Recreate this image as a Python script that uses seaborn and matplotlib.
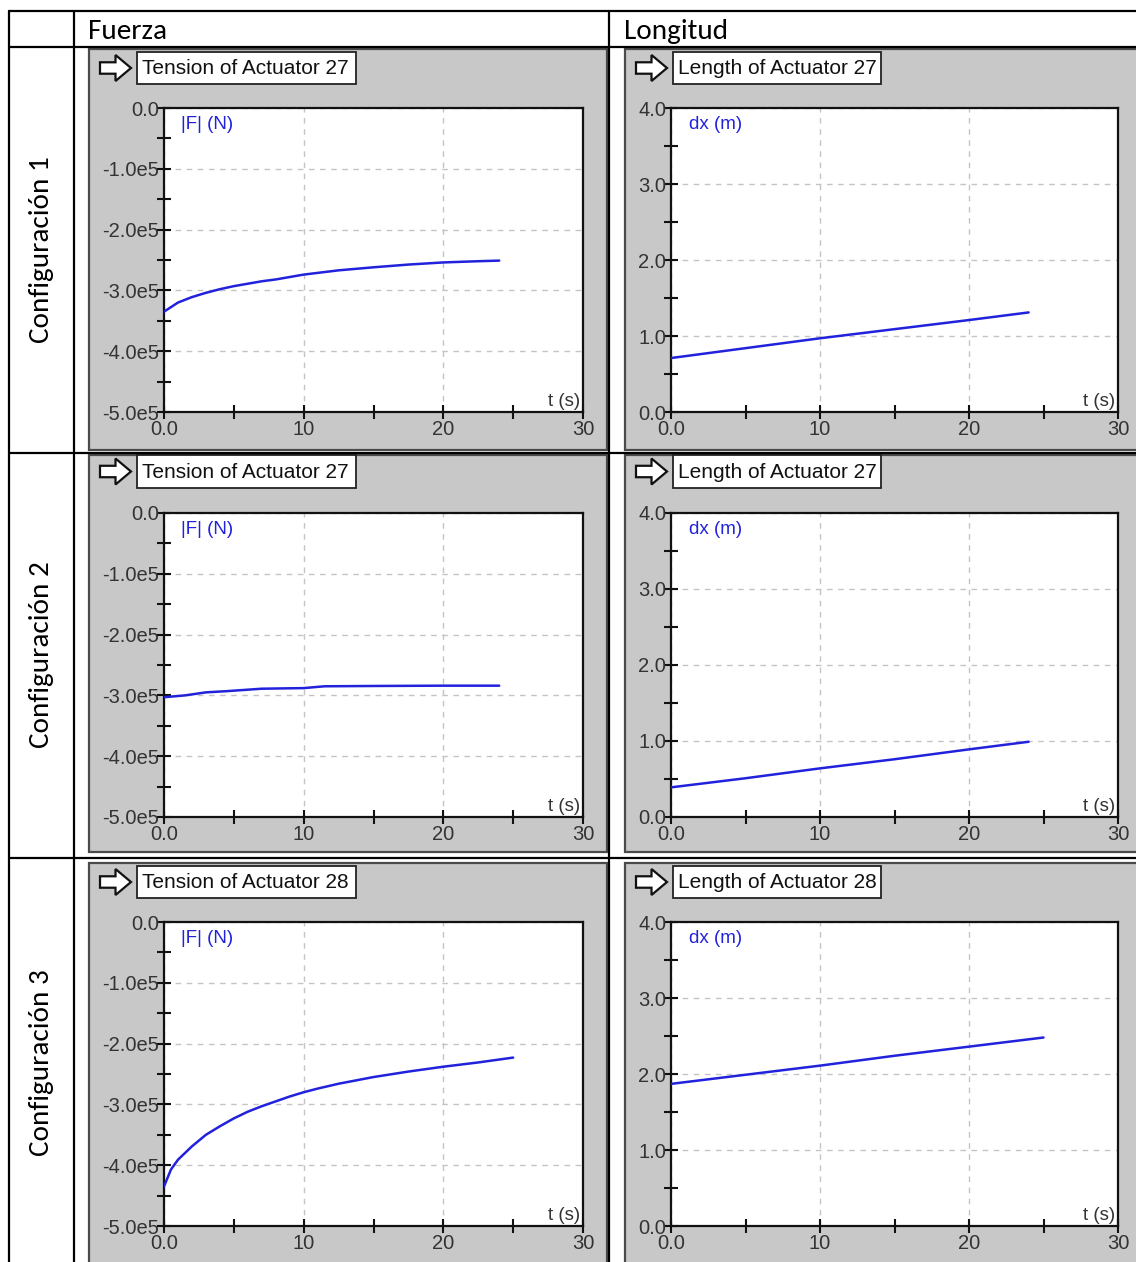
import matplotlib
matplotlib.use("Agg")
import matplotlib.pyplot as plt
import seaborn as sns
from matplotlib import font_manager
from matplotlib.patches import Rectangle, Polygon
from matplotlib.lines import Line2D

# Canvas size in pixels (dpi 100)
W, H = 1136, 1262

HEADERS = ['Fuerza', 'Longitud']
ROW_LABELS = ['Configuración 1', 'Configuración 2', 'Configuración 3']
TENSION_TITLES = ['Tension of Actuator 27', 'Tension of Actuator 27', 'Tension of Actuator 28']
LENGTH_TITLES = ['Length of Actuator 27', 'Length of Actuator 27', 'Length of Actuator 28']

# tension |F| (N) vs t (s)
T_TENSION_1 = [0, 1, 2, 3, 4, 5, 6, 7, 8, 10, 12.5, 15, 17.5, 20, 22.5, 24]
TENSION_1 = [-3.35e5, -3.20e5, -3.11e5, -3.04e5, -2.98e5, -2.93e5, -2.89e5,
             -2.85e5, -2.82e5, -2.74e5, -2.67e5, -2.62e5, -2.575e5, -2.54e5,
             -2.52e5, -2.51e5]
T_TENSION_2 = [0, 1.5, 3, 4.5, 7, 10, 11.5, 15, 20, 24]
TENSION_2 = [-3.03e5, -3.0e5, -2.95e5, -2.93e5, -2.89e5, -2.88e5, -2.85e5,
             -2.845e5, -2.84e5, -2.84e5]
T_TENSION_3 = [0, 0.5, 1, 2, 3, 4, 5, 6, 7, 8, 9, 10, 11, 12.5, 15, 17.5, 20, 22.5, 25]
TENSION_3 = [-4.35e5, -4.07e5, -3.91e5, -3.69e5, -3.50e5, -3.36e5, -3.23e5,
             -3.12e5, -3.03e5, -2.95e5, -2.87e5, -2.80e5, -2.74e5, -2.66e5,
             -2.55e5, -2.46e5, -2.38e5, -2.31e5, -2.23e5]

# length dx (m) vs t (s)
T_LENGTH_1 = [0, 5, 10, 15, 20, 24]
LENGTH_1 = [0.71, 0.84, 0.97, 1.09, 1.21, 1.31]
T_LENGTH_2 = [0, 5, 10, 15, 20, 24]
LENGTH_2 = [0.39, 0.51, 0.64, 0.76, 0.89, 0.99]
T_LENGTH_3 = [0, 5, 10, 15, 20, 25]
LENGTH_3 = [1.87, 1.99, 2.11, 2.24, 2.36, 2.48]

X_TICKS = [0, 10, 20, 30]
X_TICK_LABELS = ['0.0', '10', '20', '30']
F_TICKS = [0, -1e5, -2e5, -3e5, -4e5, -5e5]
F_TICK_LABELS = ['0.0', '-1.0e5', '-2.0e5', '-3.0e5', '-4.0e5', '-5.0e5']
L_TICKS = [0, 1, 2, 3, 4]
L_TICK_LABELS = ['0.0', '1.0', '2.0', '3.0', '4.0']

# ---- layout (pixel positions) ----
GRAY_X = [(89, 607), (625, 1145)]
GRAY_Y = [(49, 450), (455, 852), (863, 1275)]
TITLE_X = [(137, 356), (673, 881)]
TITLE_Y = [(52, 84), (455, 488), (866, 898)]
PLOT_X = [(164, 583), (671, 1118)]
PLOT_Y = [(108, 412), (513, 817), (922, 1226)]

BLUE = '#2222dd'
PANEL_GRAY = '#c8c8c8'


def pick_font(names, default='DejaVu Sans'):
    available = set(font_manager.get_font_names())
    for n in names:
        if n in available:
            return n
    return default


sns.set_style('white')
plt.rcParams['font.family'] = ['DejaVu Sans']

NARROW = pick_font(['Liberation Sans Narrow', 'Liberation Sans'])
ARIAL = pick_font(['Liberation Sans', 'Arimo'])
CALIBRI = pick_font(['Carlito', 'Lato', 'Open Sans'])
narrow_size = 17 if NARROW == 'Liberation Sans Narrow' else 15

fig = plt.figure(figsize=(W / 100, H / 100), dpi=100)
fig.patch.set_facecolor('white')


def fx(x):
    return x / W


def fy(y):
    return 1 - y / H


def fig_rect(x0, y0, x1, y1, **kw):
    return Rectangle((fx(x0), fy(y1)), (x1 - x0) / W, (y1 - y0) / H,
                     transform=fig.transFigure, **kw)


def fig_line(xs, ys, **kw):
    fig.add_artist(Line2D([fx(v) for v in xs], [fy(v) for v in ys],
                          transform=fig.transFigure, color='black', lw=1.6, **kw))


def arrow_icon(x0, yc, w=31, h=26):
    # hollow "go" arrow next to the meter title
    sh = h * 0.22
    xm = x0 + w * 0.5
    pts = [(x0, yc - sh), (xm, yc - sh), (xm, yc - h / 2), (x0 + w, yc),
           (xm, yc + h / 2), (xm, yc + sh), (x0, yc + sh)]
    fig.add_artist(Polygon([(fx(a), fy(b)) for a, b in pts], closed=True,
                           transform=fig.transFigure, facecolor='white',
                           edgecolor='#111111', lw=1.6, zorder=2))


def draw_meter(col, row, title, t, values, kind):
    gx0, gx1 = GRAY_X[col]
    gy0, gy1 = GRAY_Y[row]
    fig.add_artist(fig_rect(gx0, gy0, gx1, gy1, facecolor=PANEL_GRAY,
                            edgecolor='#4a4a4a', lw=1.6, zorder=-5))
    tx0, tx1 = TITLE_X[col]
    ty0, ty1 = TITLE_Y[row]
    fig.add_artist(fig_rect(tx0, ty0, tx1, ty1, facecolor='white',
                            edgecolor='#222222', lw=1.3, zorder=1))
    fig.text(fx(tx0 + 5), fy((ty0 + ty1) / 2 + 1), title, family=NARROW,
             fontsize=narrow_size, color='#111111', ha='left', va='center')
    arrow_icon(tx0 - 37, (ty0 + ty1) / 2)

    px0, px1 = PLOT_X[col]
    py0, py1 = PLOT_Y[row]
    ax = fig.add_axes([fx(px0), fy(py1), (px1 - px0) / W, (py1 - py0) / H])
    ax.set_facecolor('white')

    sns.lineplot(x=t, y=values, ax=ax, color=BLUE, linewidth=1.8,
                 legend=False, zorder=5)

    ax.set_xlim(0, 30)
    ax.set_xticks(X_TICKS)
    ax.set_xticklabels(X_TICK_LABELS)
    ax.set_xticks([5, 15, 25], minor=True)
    if kind == 'force':
        ax.set_ylim(-5e5, 0)
        ax.set_yticks(F_TICKS)
        ax.set_yticklabels(F_TICK_LABELS)
        ax.set_yticks([-0.5e5, -1.5e5, -2.5e5, -3.5e5, -4.5e5], minor=True)
        ylab = '|F| (N)'
    else:
        ax.set_ylim(0, 4)
        ax.set_yticks(L_TICKS)
        ax.set_yticklabels(L_TICK_LABELS)
        ax.set_yticks([0.5, 1.5, 2.5, 3.5], minor=True)
        ylab = 'dx (m)'
    ax.set_xlabel('')
    ax.set_ylabel('')

    ax.grid(True, which='major', color='#c4c4c4', lw=1.0, linestyle=(0, (4, 4)))
    ax.grid(False, which='minor')
    for s in ax.spines.values():
        s.set_visible(True)
        s.set_color('#111111')
        s.set_linewidth(1.6)

    ax.tick_params(axis='both', which='both', direction='inout', length=10,
                   width=1.5, color='#111111', labelcolor='#333333',
                   labelsize=14.5, bottom=True, left=True, top=False, right=False)
    ax.tick_params(axis='y', which='major', pad=-1.5)
    ax.tick_params(axis='x', which='major', pad=1.0)
    for lab in ax.get_xticklabels() + ax.get_yticklabels():
        lab.set_family(ARIAL)

    ax.text(0.04, 0.975, ylab, transform=ax.transAxes, color=BLUE,
            family=ARIAL, fontsize=13.5, ha='left', va='top')
    ax.text(0.993, 0.008, 't (s)', transform=ax.transAxes, color='#333333',
            family=ARIAL, fontsize=13.5, ha='right', va='bottom')
    return ax


tension_t = [T_TENSION_1, T_TENSION_2, T_TENSION_3]
tension_v = [TENSION_1, TENSION_2, TENSION_3]
length_t = [T_LENGTH_1, T_LENGTH_2, T_LENGTH_3]
length_v = [LENGTH_1, LENGTH_2, LENGTH_3]

for r in range(3):
    draw_meter(0, r, TENSION_TITLES[r], tension_t[r], tension_v[r], 'force')
    draw_meter(1, r, LENGTH_TITLES[r], length_t[r], length_v[r], 'length')

# ---- the surrounding document table ----
fig_line([9, W], [11, 11])
fig_line([9, W], [47, 47])
fig_line([9, W], [453, 453])
fig_line([9, W], [858, 858])
for xv in [9, 74, 609]:
    fig_line([xv, xv], [11, H])

fig.text(fx(88), fy(39), HEADERS[0], family=CALIBRI, fontsize=21,
         ha='left', va='baseline', color='black')
fig.text(fx(624), fy(39), HEADERS[1], family=CALIBRI, fontsize=21,
         ha='left', va='baseline', color='black')
for yc, lab in zip([250, 655, 1063], ROW_LABELS):
    fig.text(fx(42), fy(yc), lab, family=CALIBRI, fontsize=21, rotation=90,
             ha='center', va='center', color='black')

fig.savefig('out.png', dpi=100, facecolor='white')
